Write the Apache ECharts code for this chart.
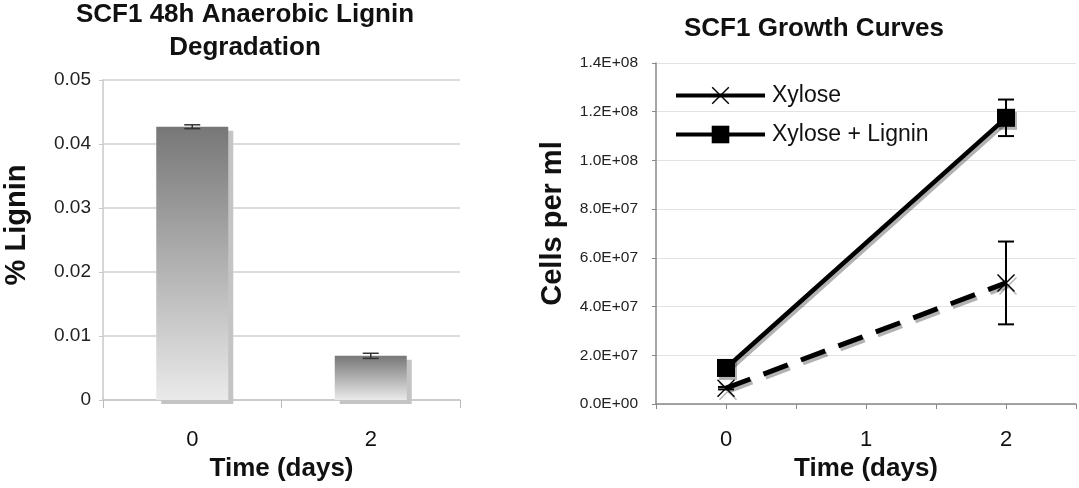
<!DOCTYPE html>
<html>
<head>
<meta charset="utf-8">
<script src="https://cdn.jsdelivr.net/npm/echarts@6/dist/echarts.min.js"></script>
<style>
  html, body { margin: 0; padding: 0; background: #fff; }
  #chart { width: 1079px; height: 488px; }
</style>
</head>
<body>
<div id="chart"></div>
<script>
// ---- Data ----
const barCategories = ['0', '2'];
const ligninPct = [0.0427, 0.0069];
const ligninErr = [0.0003, 0.0004];

const days = [0, 2];
const xylose = [6.5e6, 4.97e7];
const xyloseErr = [5e5, 1.7e7];
const xyloseLignin = [1.48e7, 1.175e8];
const xyloseLigninErr = [1.0e6, 7.5e6];

const FONT = '"Liberation Sans", Arial, Helvetica, sans-serif';

function sci(v) {
  const parts = v.toExponential(1).split('e');
  const e = +parts[1];
  return parts[0] + 'E' + (e < 0 ? '-' : '+') + String(Math.abs(e)).padStart(2, '0');
}

const xPath = 'path://M0,1 L1,0 L9,8 L17,0 L18,1 L10,9 L18,17 L17,18 L9,10 L1,18 L0,17 L8,9 Z';

function errRender(capHalf, color, width) {
  return function (params, api) {
    const x = api.value(0), y = api.value(1), e = api.value(2);
    const top = api.coord([x, y + e]);
    const bot = api.coord([x, y - e]);
    const st = { stroke: color, lineWidth: width };
    return {
      type: 'group',
      children: [
        { type: 'line', shape: { x1: top[0], y1: top[1], x2: bot[0], y2: bot[1] }, style: st },
        { type: 'line', shape: { x1: top[0] - capHalf, y1: top[1], x2: top[0] + capHalf, y2: top[1] }, style: st },
        { type: 'line', shape: { x1: bot[0] - capHalf, y1: bot[1], x2: bot[0] + capHalf, y2: bot[1] }, style: st }
      ]
    };
  };
}

const chart = echarts.init(document.getElementById('chart'), null, { renderer: 'canvas' });

const lineShadow = { shadowColor: 'rgba(0,0,0,0.3)', shadowOffsetX: 2, shadowOffsetY: 3, shadowBlur: 0 };

chart.setOption({
  animation: false,
  backgroundColor: '#ffffff',
  textStyle: { fontFamily: FONT },
  title: [
    {
      text: 'SCF1 48h Anaerobic Lignin\nDegradation',
      left: 245, top: -2, textAlign: 'center', padding: 0,
      textStyle: { fontFamily: FONT, fontWeight: 'bold', fontSize: 26, lineHeight: 33, color: '#111' }
    },
    {
      text: 'SCF1 Growth Curves',
      left: 814, top: 12, textAlign: 'center', padding: 0,
      textStyle: { fontFamily: FONT, fontWeight: 'bold', fontSize: 26, lineHeight: 33, color: '#111' }
    }
  ],
  legend: {
    orient: 'vertical',
    left: 674, top: 84, padding: 0,
    itemWidth: 89, itemHeight: 22, itemGap: 16,
    textStyle: { fontFamily: FONT, fontSize: 23, color: '#111', padding: [0, 0, 0, 2] },
    data: [
      { name: 'Xylose', lineStyle: { type: 'solid', width: 4 } },
      { name: 'Xylose + Lignin', lineStyle: { type: 'solid', width: 4 } }
    ]
  },
  grid: [
    { left: 103, right: 619, top: 80, bottom: 88 },
    { left: 656, right: 3, top: 63, bottom: 84 }
  ],
  xAxis: [
    {
      gridIndex: 0, type: 'category', data: barCategories, boundaryGap: true,
      axisLine: { lineStyle: { color: '#c8c8c8', width: 1.5 } },
      axisTick: { show: true, length: 8, lineStyle: { color: '#bbb' }, alignWithLabel: false },
      axisLabel: { fontFamily: FONT, fontSize: 22, color: '#111', margin: 29 },
      name: 'Time (days)', nameLocation: 'middle', nameGap: 56,
      nameTextStyle: { fontFamily: FONT, fontWeight: 'bold', fontSize: 26, color: '#111' }
    },
    {
      gridIndex: 1, type: 'value', min: -0.5, max: 2.5, interval: 0.5,
      splitLine: { show: false },
      axisLine: { onZero: false, lineStyle: { color: '#888', width: 1.5 } },
      axisTick: { show: true, length: 5, lineStyle: { color: '#888' } },
      axisLabel: {
        fontFamily: FONT, fontSize: 22, color: '#111', margin: 25,
        formatter: function (v) { return Number.isInteger(v) && v >= 0 ? String(v) : ''; }
      },
      name: 'Time (days)', nameLocation: 'middle', nameGap: 52,
      nameTextStyle: { fontFamily: FONT, fontWeight: 'bold', fontSize: 26, color: '#111' }
    }
  ],
  yAxis: [
    {
      gridIndex: 0, type: 'value', min: 0, max: 0.05, interval: 0.01,
      axisLine: { show: true, lineStyle: { color: '#c8c8c8', width: 1.5 } },
      axisTick: { show: true, length: 4, lineStyle: { color: '#c8c8c8' } },
      axisLabel: { fontFamily: FONT, fontSize: 19, color: '#222', margin: 12 },
      splitLine: { lineStyle: { color: '#cfcfcf', width: 1.6 } },
      name: '% Lignin', nameLocation: 'middle', nameGap: 72, nameRotate: 90,
      nameTextStyle: { fontFamily: FONT, fontWeight: 'bold', fontSize: 29, color: '#111', padding: [0, 0, 0, 30] }
    },
    {
      gridIndex: 1, type: 'value', min: 0, max: 1.4e8, interval: 2e7,
      axisLine: { show: true, onZero: false, lineStyle: { color: '#888', width: 1.5 } },
      axisTick: { show: true, length: 4, lineStyle: { color: '#888' } },
      axisLabel: { fontFamily: FONT, fontSize: 15.5, color: '#222', margin: 18, formatter: sci },
      splitLine: { lineStyle: { color: '#e2e2e2', width: 1.2 } },
      name: 'Cells per ml', nameLocation: 'middle', nameGap: 89, nameRotate: 90,
      nameTextStyle: { fontFamily: FONT, fontWeight: 'bold', fontSize: 29, color: '#111', padding: [0, 0, 0, 20] }
    }
  ],
  series: [
    {
      type: 'bar', name: '% Lignin', xAxisIndex: 0, yAxisIndex: 0,
      data: ligninPct, barWidth: 72,
      itemStyle: {
        color: { type: 'linear', x: 0, y: 0, x2: 0, y2: 1,
          colorStops: [{ offset: 0, color: '#777777' }, { offset: 1, color: '#eaeaea' }] },
        shadowColor: '#c4c4c4', shadowOffsetX: 5, shadowOffsetY: 4, shadowBlur: 0
      }
    },
    {
      type: 'custom', name: 'barErr', xAxisIndex: 0, yAxisIndex: 0,
      data: barCategories.map((c, i) => [i, ligninPct[i], ligninErr[i]]),
      encode: { x: 0, y: 1 },
      renderItem: errRender(8, '#333', 1.5), z: 5
    },
    {
      type: 'line', name: 'Xylose', xAxisIndex: 1, yAxisIndex: 1,
      data: days.map((d, i) => [d, xylose[i]]),
      symbol: xPath, symbolSize: 18,
      lineStyle: Object.assign({ color: '#000', width: 5, type: [26, 14] }, lineShadow),
      itemStyle: Object.assign({ color: '#000' }, lineShadow),
      z: 3
    },
    {
      type: 'line', name: 'Xylose + Lignin', xAxisIndex: 1, yAxisIndex: 1,
      data: days.map((d, i) => [d, xyloseLignin[i]]),
      symbol: 'rect', symbolSize: 18,
      lineStyle: Object.assign({ color: '#000', width: 4.5, type: 'solid' }, lineShadow),
      itemStyle: Object.assign({ color: '#000' }, lineShadow),
      z: 4
    },
    {
      type: 'custom', name: 'errX', xAxisIndex: 1, yAxisIndex: 1,
      data: days.map((d, i) => [d, xylose[i], xyloseErr[i]]),
      encode: { x: 0, y: 1 },
      renderItem: errRender(8, '#000', 2), z: 6
    },
    {
      type: 'custom', name: 'errXL', xAxisIndex: 1, yAxisIndex: 1,
      data: days.map((d, i) => [d, xyloseLignin[i], xyloseLigninErr[i]]),
      encode: { x: 0, y: 1 },
      renderItem: errRender(8, '#000', 2), z: 6
    }
  ]
});
</script>
</body>
</html>
